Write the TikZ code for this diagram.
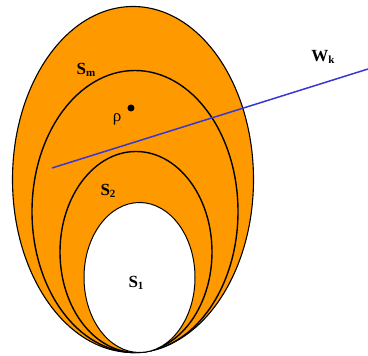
\documentclass[tikz,border=0pt]{standalone}
\usepackage{fontspec}
\setmainfont{Liberation Serif}
\definecolor{setorange}{RGB}{255,153,0}
\definecolor{cutblue}{RGB}{55,55,210}
\usepackage{tikz}
\usetikzlibrary{positioning}
\newcommand{\setlbl}[2]{\textbf{#1\raisebox{-0.35ex}{\fontsize{11}{12}\selectfont #2}}}

\begin{document}
\begin{tikzpicture}[x=1pt, y=-1pt, font=\fontsize{17}{20}\selectfont]
        \useasboundingbox (0,0) rectangle (368,356);
        \filldraw[fill=setorange, line width=1.1pt] (133,179.5) ellipse [x radius=120.5, y radius=173];
        \filldraw[fill=setorange, line width=1.4pt] (135,211.5) ellipse [x radius=103, y radius=141];
        \filldraw[fill=setorange, line width=1.4pt] (136,252) ellipse [x radius=76, y radius=100.5];
        \filldraw[fill=white, line width=1pt] (139.5,277.5) ellipse [x radius=55.5, y radius=75];
        \coordinate (cutL) at (52,168);
        \coordinate (cutR) at (368,69);
        \draw[cutblue, line width=1.5pt] (cutL) -- (cutR);
        \fill (131,108) circle (3.5pt) coordinate (rho);
        \node (rhoLbl) at (117,119) {ρ};
        \node (Sm) at (86,70) {\setlbl{S}{m}};
        \node (S2) at (108,191) {\setlbl{S}{2}};
        \node (S1) at (136,283) {\setlbl{S}{1}};
        \node (Wk) at (323,57) {\setlbl{W}{k}};
      \end{tikzpicture}
\end{document}
